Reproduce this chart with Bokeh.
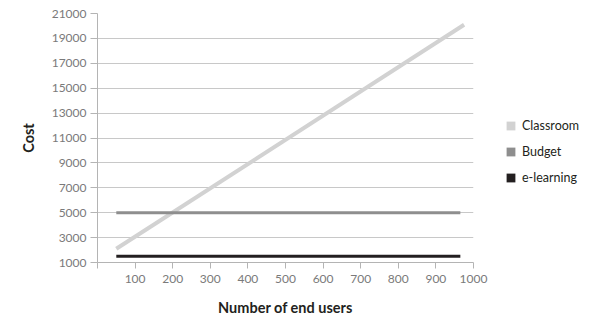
from bokeh.plotting import figure
from bokeh.models import Range1d, FixedTicker, Legend, LegendItem, ColumnDataSource
from bokeh.embed import file_html
from bokeh.resources import INLINE

# Data
series_names = ["Classroom", "Budget", "e-learning"]
classroom_users = [50, 975]
classroom_cost = [2100, 20100]
budget_users = [50, 965]
budget_cost = [5000, 5000]
elearning_users = [50, 965]
elearning_cost = [1500, 1500]
x_ticks = [0, 100, 200, 300, 400, 500, 600, 700, 800, 900, 1000]
y_ticks = [1000, 3000, 5000, 7000, 9000, 11000, 13000, 15000, 17000, 19000, 21000]

colors = {"Classroom": "#d2d2d2", "Budget": "#8e8e8e", "e-learning": "#231f20"}
FONT = "Lato"

p = figure(frame_width=376, frame_height=249, output_backend="svg", toolbar_location=None,
           x_range=Range1d(0, 1000), y_range=Range1d(1000, 21000),
           min_border_left=97, min_border_right=127, min_border_top=13, min_border_bottom=58)
p.outline_line_color = None
p.background_fill_color = "white"
p.border_fill_color = "white"

p.xgrid.grid_line_color = None
p.ygrid.grid_line_color = "#c8c8c8"
p.ygrid.grid_line_width = 1
p.ygrid.ticker = FixedTicker(ticks=y_ticks)

for ax in (p.xaxis[0], p.yaxis[0]):
    ax.axis_line_color = "#b4b4b4"
    ax.major_tick_line_color = "#b4b4b4"
    ax.minor_tick_line_color = None
    ax.major_tick_in = 0
    ax.major_label_text_font = FONT
    ax.major_label_text_font_size = "12px"
    ax.major_label_text_color = "#7a7a7a"
    ax.axis_label_text_font = FONT
    ax.axis_label_text_font_size = "14.5px"
    ax.axis_label_text_font_style = "bold"
    ax.axis_label_text_color = "#231f20"

p.xaxis.ticker = FixedTicker(ticks=x_ticks)
p.xaxis.major_label_overrides = {0: ""}
p.xaxis.major_tick_out = 6
p.xaxis.major_label_standoff = 6
p.xaxis.axis_label = "Number of end users"
p.xaxis.axis_label_standoff = 13

p.yaxis.ticker = FixedTicker(ticks=y_ticks)
p.yaxis.major_tick_out = 7
p.yaxis.major_label_standoff = 4
p.yaxis.axis_label = "Cost"
p.yaxis.axis_label_standoff = 12

p.line(classroom_users, classroom_cost, line_color=colors["Classroom"], line_width=4)
p.line(budget_users, budget_cost, line_color=colors["Budget"], line_width=3)
p.line(elearning_users, elearning_cost, line_color=colors["e-learning"], line_width=3)

nan = float("nan")
items = []
for name in series_names:
    src = ColumnDataSource(dict(left=[nan], right=[nan], bottom=[nan], top=[nan]))
    r = p.quad(left="left", right="right", bottom="bottom", top="top", source=src,
               fill_color=colors[name], line_color=None)
    items.append(LegendItem(label=name, renderers=[r]))

legend = Legend(items=items, location=(32, 77),
                glyph_width=11, glyph_height=11, label_standoff=6,
                label_height=14, spacing=11, padding=0, margin=0,
                label_text_font=FONT, label_text_font_size="12.5px",
                label_text_color="#231f20",
                border_line_color=None, background_fill_alpha=0)
p.add_layout(legend, "right")

open("out.html", "w").write(file_html(p, INLINE))
